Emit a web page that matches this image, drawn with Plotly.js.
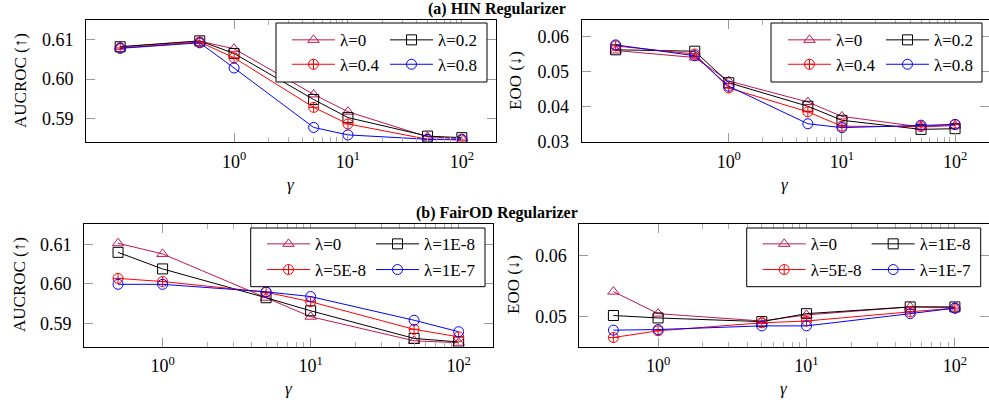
<!DOCTYPE html>
<html>
<head>
<meta charset="utf-8">
<script src="https://cdn.plot.ly/plotly-3.0.1.min.js"></script>
<style>html,body{margin:0;padding:0;background:#fff;}#chart{width:989px;height:402px;}</style>
</head>
<body>
<div id="chart"></div>
<script>
// ---------------- data ----------------
const gammaHIN = [0.1, 0.5, 1, 5, 10, 50, 100];
const gammaFair = [0.5, 1, 5, 10, 50, 100];

const hinLabels = ['λ=0', 'λ=0.2', 'λ=0.4', 'λ=0.8'];
const fairLabels = ['λ=0', 'λ=1E-8', 'λ=5E-8', 'λ=1E-7'];

const hinAuc_l0   = [0.6082, 0.6096, 0.6077, 0.5961, 0.5917, 0.5853, 0.5849];
const hinAuc_l02  = [0.6082, 0.6097, 0.6065, 0.5948, 0.5902, 0.5855, 0.5851];
const hinAuc_l04  = [0.6079, 0.6094, 0.6054, 0.5928, 0.5886, 0.5847, 0.5845];
const hinAuc_l08  = [0.6078, 0.6092, 0.6028, 0.5877, 0.5858, 0.5847, 0.5847];

const hinEoo_l0   = [0.0561, 0.0541, 0.0474, 0.0414, 0.0373, 0.0343, 0.0347];
const hinEoo_l02  = [0.0563, 0.0559, 0.0469, 0.0402, 0.0362, 0.0336, 0.0338];
const hinEoo_l04  = [0.0574, 0.0551, 0.0454, 0.0386, 0.0345, 0.0344, 0.0350];
const hinEoo_l08  = [0.0577, 0.0546, 0.0459, 0.0352, 0.0341, 0.0348, 0.0350];

const fairAuc_l0   = [0.6103, 0.6076, 0.5965, 0.5917, 0.5856, 0.5851];
const fairAuc_l1e8 = [0.6080, 0.6038, 0.5965, 0.5932, 0.5862, 0.5853];
const fairAuc_l5e8 = [0.6014, 0.6006, 0.5979, 0.5955, 0.5885, 0.5866];
const fairAuc_l1e7 = [0.5999, 0.5999, 0.5980, 0.5968, 0.5908, 0.5879];

const fairEoo_l0   = [0.0541, 0.0505, 0.0493, 0.0503, 0.0516, 0.0515];
const fairEoo_l1e8 = [0.0502, 0.0498, 0.0492, 0.0505, 0.0516, 0.0516];
const fairEoo_l5e8 = [0.0466, 0.0477, 0.0490, 0.0493, 0.0508, 0.0514];
const fairEoo_l1e7 = [0.0478, 0.0479, 0.0485, 0.0485, 0.0505, 0.0514];

const xTickVals = [1, 10, 100];
const xTickText = ['10<sup>0</sup>', '10<sup>1</sup>', '10<sup>2</sup>'];

// ---------------- styling ----------------
const W = 989, H = 402;
const FONT = 'Liberation Serif, serif';
const colors = ['rgb(192,22,82)', 'black', 'rgb(255,0,0)', 'rgb(0,0,255)'];
const symbols = ['triangle-up-open', 'square-open', 'circle-cross-open', 'circle-open'];
const px = v => v / W;
const py = v => 1 - v / H;

const traces = [];
function addSeries(xs, ysList, names, xa, ya, legendRow1, legendRow2) {
  ysList.forEach((ys, i) => {
    traces.push({
      x: xs, y: ys, name: names[i], type: 'scatter', mode: 'lines+markers',
      xaxis: xa, yaxis: ya,
      legend: (i === 0 || i === 1) ? legendRow1 : legendRow2,
      line: {color: colors[i], width: 1},
      marker: {symbol: symbols[i], size: 10, color: colors[i], line: {color: colors[i], width: 1}}
    });
  });
}
addSeries(gammaHIN, [hinAuc_l0, hinAuc_l02, hinAuc_l04, hinAuc_l08], hinLabels, 'x', 'y', 'legend', 'legend2');
addSeries(gammaHIN, [hinEoo_l0, hinEoo_l02, hinEoo_l04, hinEoo_l08], hinLabels, 'x2', 'y2', 'legend3', 'legend4');
addSeries(gammaFair, [fairAuc_l0, fairAuc_l1e8, fairAuc_l5e8, fairAuc_l1e7], fairLabels, 'x3', 'y3', 'legend5', 'legend6');
addSeries(gammaFair, [fairEoo_l0, fairEoo_l1e8, fairEoo_l5e8, fairEoo_l1e7], fairLabels, 'x4', 'y4', 'legend7', 'legend8');

const minorVals = [2,3,4,5,6,7,8,9,20,30,40,50,60,70,80,90,200];
function xaxis(dom, range, anchor) {
  return {
    type: 'log', domain: dom, range: range, anchor: anchor,
    tickmode: 'array', tickvals: xTickVals, ticktext: xTickText,
    ticks: 'inside', ticklen: 9, tickcolor: '#9a9a9a', tickwidth: 1,
    minor: {tickmode: 'array', tickvals: minorVals, ticks: 'inside', ticklen: 5, tickcolor: '#b0b0b0', tickwidth: 1, showgrid: false},
    showline: true, linecolor: 'black', linewidth: 1, mirror: 'allticks',
    showgrid: false, zeroline: false, automargin: false,
    tickfont: {family: FONT, size: 18, color: 'black'}, ticklabelstandoff: 3
  };
}
function yaxis(dom, range, dtick, anchor) {
  return {
    domain: dom, range: range, anchor: anchor, dtick: dtick, tick0: 0, tickformat: '.2f',
    ticks: 'inside', ticklen: 9, tickcolor: '#9a9a9a', tickwidth: 1,
    showline: true, linecolor: 'black', linewidth: 1, mirror: 'allticks',
    showgrid: false, zeroline: false, automargin: false,
    tickfont: {family: FONT, size: 18, color: 'black'}, ticklabelstandoff: 8
  };
}

const rowA = [py(142), py(20)];
const rowB = [py(346.7), py(224.3)];

function legendRow(xLeft, yCenter, itemw, entryw) {
  return {
    x: px(xLeft), xanchor: 'left', y: py(yCenter), yanchor: 'middle',
    orientation: 'h', bgcolor: 'rgba(0,0,0,0)', borderwidth: 0,
    itemwidth: itemw, entrywidth: entryw, entrywidthmode: 'pixels',
    font: {family: FONT, size: 17, color: 'black'}, tracegroupgap: 0
  };
}

function box(x0, x1, y0, y1) {
  return {type: 'rect', xref: 'paper', yref: 'paper', x0: px(x0), x1: px(x1), y0: py(y1), y1: py(y0),
          line: {color: 'black', width: 1}, fillcolor: 'white', layer: 'above'};
}

function ann(text, x, y, opts) {
  return Object.assign({text: text, xref: 'paper', yref: 'paper', x: px(x), y: py(y), showarrow: false,
    xanchor: 'center', yanchor: 'middle', font: {family: FONT, size: 17, color: 'black'}}, opts || {});
}

const layout = {
  width: W, height: H, margin: {l: 0, r: 0, t: 0, b: 0},
  font: {family: FONT, size: 17, color: 'black'},
  paper_bgcolor: 'white', plot_bgcolor: 'white', showlegend: true,
  xaxis: xaxis([px(86), px(496)], [-1.3, 2.3], 'y'),
  yaxis: yaxis(rowA, [0.584, 0.615], 0.01, 'x'),
  xaxis2: xaxis([px(581.7), 1], [-1.3, 2.3], 'y2'),
  yaxis2: yaxis(rowA, [0.030, 0.0648], 0.01, 'x2'),
  xaxis3: xaxis([px(84), px(492.7)], [-0.531, 2.23], 'y3'),
  yaxis3: yaxis(rowB, [0.5841, 0.6151], 0.01, 'x3'),
  xaxis4: xaxis([px(579.3), 1], [-0.531, 2.23], 'y4'),
  yaxis4: yaxis(rowB, [0.0451, 0.0651], 0.01, 'x4'),
  legend:  legendRow(287, 40.3, 43, 40),
  legend2: legendRow(287, 64.7, 43, 40),
  legend3: legendRow(783, 40.3, 43, 40),
  legend4: legendRow(783, 64.7, 43, 40),
  legend5: legendRow(262, 244.3, 43, 51),
  legend6: legendRow(262, 270, 43, 51),
  legend7: legendRow(757.7, 244.3, 43, 51),
  legend8: legendRow(757.7, 270, 43, 51),
  shapes: [box(276, 487, 23, 82), box(771, 982, 23, 82), box(250.7, 485, 228, 286.7), box(746.7, 980.7, 228, 286.7)],
  annotations: [
    ann('<b>(a) HIN Regularizer</b>', 497, 9, {font: {family: FONT, size: 16, color: 'black'}}),
    ann('<b>(b) FairOD Regularizer</b>', 497, 213, {font: {family: FONT, size: 16, color: 'black'}}),
    ann('AUCROC (↑)', 20, 81, {textangle: -90}),
    ann('EOO (↓)', 515, 81, {textangle: -90}),
    ann('AUCROC (↑)', 19, 285, {textangle: -90}),
    ann('EOO (↓)', 513, 285, {textangle: -90}),
    ann('<i>γ</i>', 291, 184),
    ann('<i>γ</i>', 785, 184),
    ann('<i>γ</i>', 289, 388),
    ann('<i>γ</i>', 784, 388)
  ]
};

Plotly.newPlot('chart', traces, layout, {staticPlot: true, displayModeBar: false});
</script>
</body>
</html>
